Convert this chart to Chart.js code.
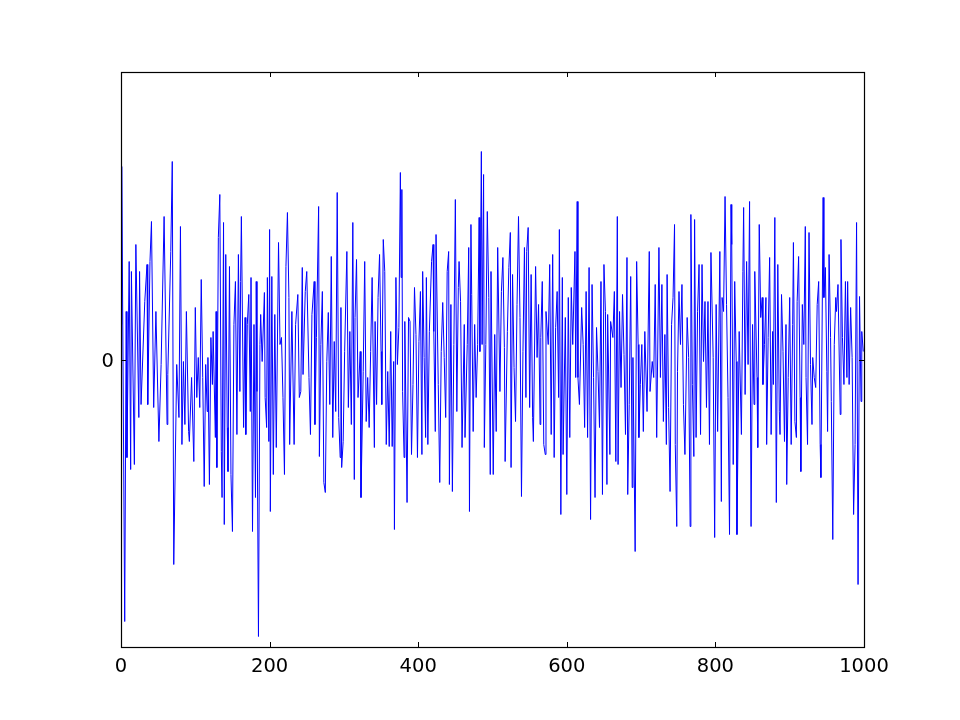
<!DOCTYPE html>
<html>
<head>
<meta charset="utf-8">
<title>Noise</title>
<script src="https://cdn.jsdelivr.net/npm/chart.js@4.4.1/dist/chart.umd.min.js"></script>
<style>
    html, body { margin: 0; padding: 0; background: #ffffff; }
    #wrap { width: 960px; height: 720px; }
</style>
</head>
<body>
<div id="wrap"><canvas id="chart-noise" width="960" height="720"></canvas></div>
<script>
// Readings from the picture: [sample index, value]. Value 0 sits in the middle of the axis.
const samples0 = [
    [0,0.35],[1,1.93],[5,-2.62],[7,0.48],[8,-0.98],[11,0.98],[13,-1.10],[14,0.88],[18,-1.05],[20,1.15],
    [24,-0.58],[25,0.88],[27,-0.45],[32,0.58],[35,0.95],[36,-0.45],[39,0.98],[41,1.38],[44,-0.48],[47,0.48],
    [51,-0.82],[54,-0.05],[58,1.43],[62,-0.65],[63,-0.15],[67,1.08],[69,1.98],[71,-2.05],[75,-0.05],[78,-0.58],
    [80,1.33],[82,-0.85],[84,-0.02],[86,-0.65],[88,0.48],[91,-0.72],[92,-0.82],[95,-0.18],[98,-1.02],[100,0.52],
    [102,-0.38],[104,0.02],[106,-0.48],[108,0.80],[110,-0.18],[112,-1.27],[114,-0.05],[116,-0.52],[117,0.02],[119,-1.25],
    [121,0.22],[123,-0.25],[124,0.28],[127,-0.78],[128,0.48],[129,-1.08],[131,1.22],[133,1.65],[135,-0.92],[136,-1.38],
    [138,1.37],[139,-1.65],[141,1.05],[143,-0.68],[144,-1.12],[146,0.93],[148,-1.15],[150,-1.72],[152,0.35],[154,0.78],
    [156,-0.75],[158,1.05],[160,-0.32],[161,0.78],[162,1.43],[165,-0.68],[167,0.42],[168,-0.75],[170,0.35],[172,0.65],
    [174,-0.52],[175,0.82],[177,-1.72],[179,0.35],[181,-1.38],[182,0.78],[183,-0.32],[185,-2.77],[187,0.15],[188,0.45],
    [190,-0.02],[193,0.67],[194,-0.38],[196,-0.68],[197,0.82],[199,-0.82]
];
const samples200 = [
    [200,1.30],[201,-1.52],[203,0.83],[205,-1.15],[207,0.45],[209,-0.88],[212,1.17],[214,0.15],[216,0.22],[218,-0.38],
    [220,-1.15],[222,0.93],[224,1.47],[226,0.62],[227,-0.85],[230,0.48],[233,-0.85],[235,0.35],[238,0.65],[240,-0.38],
    [242,-0.32],[244,0.92],[245,-0.15],[248,0.68],[250,0.88],[253,-0.18],[255,-0.75],[257,0.45],[260,0.78],[261,-0.65],
    [263,0.22],[266,1.53],[267,-0.97],[269,0.15],[271,0.68],[273,-1.23],[275,-1.33],[277,-0.02],[279,0.47],[281,-0.45],
    [283,1.03],[285,-0.78],[287,0.18],[289,-0.52],[291,1.67],[293,-0.58],[295,-0.98],[296,0.52],[297,-1.08],[299,-0.82],
    [301,0.08],[304,1.08],[306,-0.48],[308,0.28],[310,-0.65],[312,1.37],[314,-1.20],[315,0.42],[317,1.00],[319,-0.38],
    [322,0.08],[323,-1.38],[326,-0.12],[328,0.98],[330,-0.62],[332,-0.18],[334,-0.68],[336,0.08],[338,0.82],[341,-0.88],
    [342,0.38],[344,-0.45],[346,0.62],[348,1.05],[350,0.08],[351,-0.45],[353,1.20],[355,0.88],[357,-0.85],[359,-0.12],
    [361,-0.87],[363,0.28],[365,-0.87],[367,-0.02],[368,-1.70],[370,0.82],[372,-0.05],[374,0.32],[376,1.87],[377,0.82],
    [378,1.70],[379,-0.32],[381,-0.98],[382,0.38],[385,-1.43],[387,0.42],[389,0.38],[391,-0.95],[393,-0.25],[395,0.72],
    [397,0.25],[399,-0.98]
];
const samples400 = [
    [401,0.18],[403,0.68],[405,-0.95],[406,0.88],[408,0.02],[410,-0.78],[411,0.82],[413,-0.85],[415,0.28],[418,0.98],
    [420,1.15],[421,0.28],[423,-0.72],[424,1.25],[427,-0.25],[429,-1.23],[431,0.08],[433,0.57],[435,0.02],[437,-0.58],
    [439,0.88],[441,1.08],[442,-1.25],[444,0.55],[446,-1.32],[448,0.15],[450,1.60],[452,-0.52],[454,0.72],[455,0.98],
    [457,0.58],[459,-0.88],[462,0.35],[463,-0.78],[466,0.15],[468,1.12],[469,-1.52],[471,1.35],[472,0.65],[474,-0.72],
    [476,0.35],[478,-0.38],[480,0.15],[482,1.42],[483,0.08],[485,2.08],[486,0.15],[488,1.85],[489,-0.88],[491,0.15],
    [493,1.48],[495,0.62],[497,-1.15],[498,0.88],[501,-1.15],[503,0.25],[505,-0.72],[507,1.12],[510,-0.32],[512,0.68],
    [514,1.02],[516,0.12],[517,-1.02],[520,0.28],[522,0.92],[524,1.27],[525,-1.08],[527,0.85],[529,-0.08],[531,-0.62],
    [533,0.55],[535,1.43],[537,0.42],[539,-1.37],[541,0.08],[543,1.12],[545,-0.38],[546,1.08],[548,1.32],[550,-0.48],
    [552,0.85],[554,-0.58],[555,-0.82],[558,0.93],[560,0.02],[562,0.55],[564,-0.65],[565,0.22],[567,0.78],[569,-0.85],
    [571,-0.95],[572,0.48],[575,0.15],[577,0.95],[579,-0.75],[581,1.05],[583,-0.98],[585,0.32],[587,0.68],[589,-0.38],
    [590,1.30],[592,-1.55],[594,0.82],[595,-0.95],[598,0.42]
];
const samples600 = [
    [600,-1.35],[602,0.62],[604,-0.78],[606,0.72],[608,0.15],[611,1.08],[612,-0.18],[614,1.58],[615,-0.18],[617,-0.45],
    [620,0.52],[622,0.15],[624,-0.68],[626,0.68],[628,-0.78],[630,0.92],[632,-1.60],[634,0.75],[636,-0.18],[638,-1.38],
    [640,0.32],[642,-0.12],[644,-0.68],[646,0.78],[648,-1.35],[650,0.95],[652,0.48],[654,-1.25],[655,0.45],[658,-0.95],
    [659,0.38],[662,0.22],[664,0.68],[666,-1.02],[668,1.43],[669,-1.05],[671,0.48],[673,-0.28],[675,0.65],[677,0.05],
    [679,-0.75],[681,1.02],[682,-1.35],[684,-0.45],[686,0.83],[688,-1.28],[689,0.02],[692,-1.92],[694,0.98],[696,0.15],
    [697,-0.78],[699,-0.25],[701,0.15],[703,-0.72],[705,0.28],[708,-0.52],[711,1.08],[712,-0.32],[715,-0.02],[717,-0.18],
    [719,0.75],[721,-0.78],[724,1.12],[726,-0.18],[728,0.75],[730,-0.62],[732,0.25],[734,-0.85],[735,0.85],[737,-0.48],
    [739,-1.32],[741,0.35],[743,0.62],[745,1.35],[746,-0.85],[748,-1.67],[749,-0.12],[751,0.68],[753,0.15],[755,0.75],
    [757,-0.45],[759,-0.95],[762,0.42],[764,0.02],[766,-1.67],[767,1.45],[769,-0.25],[771,-0.97],[772,1.40],[774,-0.78],
    [776,0.48],[778,0.95],[780,-0.75],[782,0.95],[784,-0.02],[786,0.58],[788,-0.48],[790,0.58],[792,-0.85],[794,1.07],
    [797,0.02],[799,-1.78]
];
const samples800 = [
    [801,0.55],[803,-0.72],[806,1.08],[808,-1.42],[809,0.62],[811,0.48],[813,1.63],[815,0.55],[817,-0.38],[819,-1.75],
    [821,1.55],[822,1.15],[824,-1.05],[826,0.78],[828,-0.02],[829,-1.75],[832,0.28],[835,-0.75],[837,0.88],[838,1.52],
    [840,-0.35],[842,0.98],[844,-0.05],[846,1.58],[848,-1.67],[850,0.35],[852,-0.45],[853,0.88],[856,-0.18],[857,-0.88],
    [859,1.35],[861,0.42],[863,0.62],[864,-0.25],[866,0.15],[868,0.62],[869,-0.85],[871,0.22],[873,1.02],[875,-0.75],
    [877,0.28],[878,-0.25],[880,1.42],[882,-1.43],[884,0.95],[886,-0.52],[887,-0.75],[889,0.65],[891,0.08],[893,-0.82],
    [895,0.35],[896,-1.25],[898,-0.18],[900,0.62],[902,-0.85],[904,0.35],[905,1.17],[907,-0.62],[909,-0.78],[910,0.58],
    [912,1.03],[914,-0.38],[915,-1.12],[917,0.55],[919,0.15],[921,1.33],[922,-0.18],[924,-0.85],[926,1.27],[928,-0.05],
    [930,-0.65],[931,0.02],[933,-0.18],[935,-0.28],[937,0.55],[939,0.78],[941,-0.85],[942,-1.18],[945,1.62],[946,0.62],
    [948,0.92],[950,-0.12],[951,-0.72],[953,1.05],[955,0.22],[956,-0.42],[958,-1.80],[960,0.15],[962,0.62],[963,0.48],
    [965,0.75],[968,-0.55],[969,1.20],[971,0.22],[973,-0.25],[975,0.78],[977,-0.18],[978,0.78],[980,-0.25],[982,0.52],
    [984,0.02],[986,-1.55],[988,-0.85],[990,1.37],[992,-2.25],[994,0.63],[996,-0.42],[997,0.28],[999,0.08]
];

const xTickValues = [0, 200, 400, 600, 800, 1000];
const yTickValues = [0];
const xRange = [0, 1000];
const yRange = [-2.875, 2.875];

const NoiseChart = {
    chart: null,

    init: () => {
        const points = [].concat(samples0, samples200, samples400, samples600, samples800)
            .map(p => ({ x: p[0], y: p[1] }));
        NoiseChart.render(points);
    },

    // matplotlib style frame with inward ticks on all four sides
    framePlugin: {
        id: 'frame',
        afterDraw: (chart) => {
            const { ctx, chartArea: a, scales } = chart;
            const len = 5;
            ctx.save();
            ctx.strokeStyle = '#000000';
            ctx.lineWidth = 1;
            ctx.beginPath();
            xTickValues.forEach(v => {
                const px = Math.round(scales.x.getPixelForValue(v)) + 0.5;
                ctx.moveTo(px, a.bottom);
                ctx.lineTo(px, a.bottom - len);
                ctx.moveTo(px, a.top);
                ctx.lineTo(px, a.top + len);
            });
            yTickValues.forEach(v => {
                const py = Math.round(scales.y.getPixelForValue(v)) + 0.5;
                ctx.moveTo(a.left, py);
                ctx.lineTo(a.left + len, py);
                ctx.moveTo(a.right, py);
                ctx.lineTo(a.right - len, py);
            });
            ctx.stroke();
            ctx.lineWidth = 1.2;
            ctx.strokeRect(Math.round(a.left) + 0.5, Math.round(a.top) + 0.5,
                Math.round(a.right - a.left), Math.round(a.bottom - a.top));
            ctx.restore();
        }
    },

    render: (points) => {
        const ctx = document.getElementById('chart-noise');
        if (NoiseChart.chart) NoiseChart.chart.destroy();

        NoiseChart.chart = new Chart(ctx, {
            type: 'line',
            data: {
                datasets: [{
                    data: points,
                    borderColor: '#0000ff',
                    borderWidth: 1,
                    pointRadius: 0,
                    tension: 0,
                    fill: false
                }]
            },
            options: {
                responsive: false,
                animation: false,
                devicePixelRatio: 1,
                layout: { padding: { top: 72, right: 96, left: 0, bottom: 0 } },
                plugins: {
                    legend: { display: false },
                    tooltip: { enabled: false }
                },
                scales: {
                    x: {
                        type: 'linear',
                        min: xRange[0],
                        max: xRange[1],
                        afterFit: s => { s.height = 73; },
                        afterBuildTicks: s => { s.ticks = xTickValues.map(v => ({ value: v })); },
                        grid: { display: false, drawTicks: false },
                        border: { display: false },
                        ticks: {
                            color: '#000000',
                            padding: 8,
                            maxRotation: 0,
                            callback: v => String(v),
                            font: { family: 'DejaVu Sans', size: 19.5 }
                        }
                    },
                    y: {
                        type: 'linear',
                        min: yRange[0],
                        max: yRange[1],
                        afterFit: s => { s.width = 121; },
                        afterBuildTicks: s => { s.ticks = yTickValues.map(v => ({ value: v })); },
                        grid: { display: false, drawTicks: false },
                        border: { display: false },
                        ticks: {
                            color: '#000000',
                            padding: 7,
                            labelOffset: 2,
                            callback: v => String(v),
                            font: { family: 'DejaVu Sans', size: 19.5 }
                        }
                    }
                }
            },
            plugins: [NoiseChart.framePlugin]
        });
    }
};

NoiseChart.init();
</script>
</body>
</html>
